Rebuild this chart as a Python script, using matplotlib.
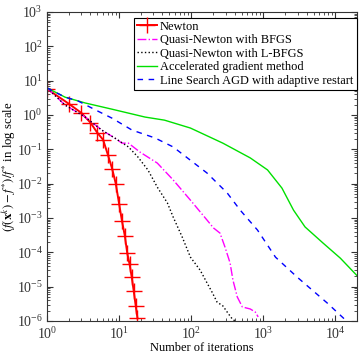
#!/usr/bin/env python3

import numpy as np
import matplotlib
matplotlib.use("Agg")
import matplotlib.pyplot as plt
from matplotlib.ticker import LogLocator, NullFormatter

plt.rcParams['font.family'] = ['Liberation Serif', 'DejaVu Serif']
plt.rcParams['mathtext.fontset'] = 'stix'
fontsize = 8.9

# values, as (log10 iterations, log10 relative error)
newton_it  = np.arange(1, 19)
newton_err = [0.76, 0.33, 0.06, -0.22, -0.52, -0.72, -1.16, -1.56, -2.0,
              -2.58, -3.10, -3.51, -4.03, -4.35, -4.73, -5.14, -5.55, -5.92]

bfgs_it  = [0, 0.25, 0.53, 0.76, 0.94, 1.04, 1.13, 1.29, 1.53, 1.75, 1.99, 2.22,
            2.31, 2.40, 2.47, 2.54, 2.58, 2.64, 2.71, 2.82, 2.89, 2.93]
bfgs_err = [0.79, 0.29, -0.06, -0.44, -0.67, -0.82, -0.82, -1.08, -1.40, -1.89,
            -2.48, -3.06, -3.29, -3.44, -3.85, -4.31, -4.81, -5.30, -5.59, -5.65,
            -5.74, -5.88]

lbfgs_it  = [0, 0.25, 0.53, 0.76, 0.94, 1.13, 1.26, 1.40, 1.53, 1.67, 1.75, 1.875,
             1.99, 2.125, 2.22, 2.29, 2.36, 2.44, 2.51, 2.57, 2.61]
lbfgs_err = [0.79, 0.29, -0.06, -0.44, -0.67, -0.93, -1.22, -1.60, -2.10, -2.56,
             -2.97, -3.55, -4.14, -4.52, -4.89, -5.16, -5.45, -5.56, -5.77, -5.94,
             -6.0]

agd_it  = [0, 0.25, 0.53, 0.90, 1.36, 1.63, 1.99, 2.44, 2.82, 3.06, 3.26, 3.42,
           3.58, 3.83, 4.07, 4.32]
agd_err = [0.79, 0.52, 0.35, 0.17, -0.06, -0.15, -0.38, -0.82, -1.25, -1.60,
           -2.13, -2.77, -3.26, -3.73, -4.17, -4.72]

ls_it  = [0, 0.25, 0.43, 0.67, 0.90, 1.18, 1.50, 1.75, 2.22, 2.50, 2.68, 2.92,
          3.17, 3.47, 3.89, 4.11, 4.17]
ls_err = [0.79, 0.52, 0.41, 0.15, -0.09, -0.44, -0.67, -0.93, -1.69, -2.27,
          -2.77, -3.35, -4.14, -4.72, -5.48, -5.91, -6.03]

def p(a):
  return 10.0 ** np.asarray(a, dtype=float)

fig = plt.figure(figsize=(3.59, 3.54), dpi=100)
ax = fig.add_axes([47/359, 1-321/354, (357-47)/359, (321-12)/354])

ax.plot(newton_it, p(newton_err), color='red', lw=1.4, marker='+', ms=12, mew=1.0,
        label='Newton')
ax.plot(p(bfgs_it), p(bfgs_err), color='magenta', lw=1.0, ls='-.', label='Quasi-Newton with BFGS')
ax.plot(p(lbfgs_it), p(lbfgs_err), color='black', lw=1.0, ls=':', label='Quasi-Newton with L-BFGS')
ax.plot(p(agd_it), p(agd_err), color='#00e000', lw=1.0, ls='-', label='Accelerated gradient method')
ax.plot(p(ls_it), p(ls_err), color='blue', lw=1.0, ls=(0, (4, 4)), label='Line Search AGD with adaptive restart')

ax.set_xscale('log')
ax.set_yscale('log')
ax.set_xlim(1, 2e4)
ax.set_ylim(1e-6, 1e3)
ax.set_yticks([10.0**k for k in range(-6, 4)])
ax.set_xticks([10.0**k for k in range(0, 5)])
ax.yaxis.set_minor_locator(LogLocator(base=10, subs=np.arange(2, 10), numticks=20))
ax.xaxis.set_minor_locator(LogLocator(base=10, subs=np.arange(2, 10), numticks=20))
ax.xaxis.set_minor_formatter(NullFormatter())
ax.yaxis.set_minor_formatter(NullFormatter())
ax.tick_params(which='both', direction='in', top=True, right=True, labelsize=10,
               color='#333333', labelcolor='#333333')
ax.tick_params(axis='x', pad=4)
ax.tick_params(axis='y', pad=3)
ax.tick_params(which='major', length=4)
ax.tick_params(which='minor', length=2)
for s in ax.spines.values():
  s.set_linewidth(0.8)
  s.set_color('#333333')

ax.set_xlabel('Number of iterations', fontsize=fontsize)
ax.set_ylabel(r'$(f(\mathbf{x}^k) - f^{*})/f^{*}$ in log scale', fontsize=9.2)
ax.xaxis.set_label_coords(0.5, -0.068)
ax.yaxis.set_label_coords(-0.094, 0.5)

leg = ax.legend(loc='upper right', bbox_to_anchor=(0.9985, 0.9815), fontsize=fontsize,
                fancybox=False, framealpha=1, edgecolor='black', borderpad=0.25,
                labelspacing=0.12, handlelength=1.6, handletextpad=0.25, borderaxespad=0)
leg.get_frame().set_linewidth(0.8)

fig.savefig('out.png', dpi=100)
plt.close()
